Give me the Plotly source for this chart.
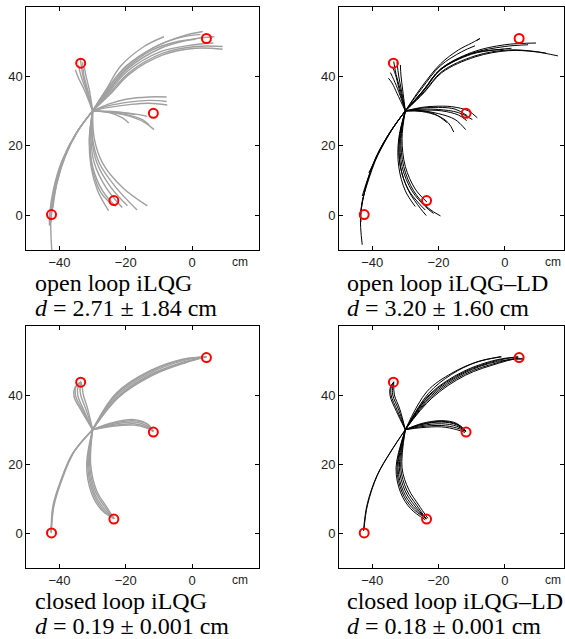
import plotly.graph_objects as go

# ---------------- data (cm) ----------------
TARGET_X = [-42.4, -33.6, -23.6, -11.7, 4.3]
TARGET_Y = [0.2, 43.7, 4.2, 29.3, 50.8]

X_TICKS = [-40, -20, 0]
X_TICK_TEXT = ["\u221240", "\u221220", "0"]
Y_TICKS = [0, 20, 40]
Y_TICK_TEXT = ["0", "20", "40"]

PANEL_TITLES = ["open loop iLQG", "open loop iLQG\u2013LD", "closed loop iLQG", "closed loop iLQG\u2013LD"]
PANEL_D_MEAN = ["2.71", "3.20", "0.19", "0.18"]
PANEL_D_STD = ["1.84", "1.60", "0.001", "0.001"]

# open loop iLQG trajectories
OL_ILQG_A = [
    [(-30, 30), (-26, 36), (-21.6, 42.8), (-14.5, 48.5), (-8.5, 51.3)],
    [(-30, 30), (-25.5, 36.5), (-20, 42.8), (-11, 48.5), (-3, 51.5), (3.2, 52.8)],
    [(-30, 30), (-25, 36), (-19.6, 42), (-9.5, 48), (0, 50.6), (6.7, 51.3)],
    [(-30, 30), (-25, 35.5), (-19.6, 41.3), (-9.5, 47), (0.6, 49), (6.4, 49.5)],
    [(-30, 30), (-24.5, 35.5), (-19, 41), (-9, 46.5), (1, 48.5), (9.2, 48.5)],
    [(-30, 30), (-24.5, 35), (-19, 40.5), (-9, 46), (1, 48), (9.2, 47.7)],
    [(-30, 30), (-25, 36), (-20, 42), (-12, 47.5), (-4, 50), (1, 50.6)],
    [(-30, 30), (-25.3, 36.2), (-20.3, 42.3), (-12, 48), (-4, 51), (2.5, 52)],
]
OL_ILQG_B = [
    [(-30, 30), (-25, 32), (-19.6, 33.4), (-13, 34), (-7.7, 34)],
    [(-30, 30), (-25, 31.5), (-19, 32.5), (-13, 33), (-7.7, 32.7)],
    [(-30, 30), (-25, 31), (-19, 31.8), (-13, 32.2), (-7.5, 31.7)],
    [(-30, 30), (-25, 29.8), (-20, 29.3), (-17.1, 28.9)],
    [(-30, 30), (-25, 29.5), (-21, 28), (-19.1, 26.5)],
    [(-30, 30), (-24, 29.8), (-18, 29.2), (-13.5, 28.4)],
    [(-30, 30), (-24, 29.5), (-18, 28.5), (-15, 27.5), (-13, 26)],
    [(-30, 30), (-24, 29.5), (-18, 28.2), (-14, 26.5), (-11.5, 24.6)],
]
OL_ILQG_C = [
    [(-30, 30), (-31, 22), (-30.5, 14), (-28.5, 7), (-25.2, 1.3)],
    [(-30, 30), (-30.8, 22), (-30, 14), (-27, 7), (-23, 2.5)],
    [(-30, 30), (-30.5, 22), (-29.5, 15), (-26, 8), (-21.1, 2.2)],
    [(-30, 30), (-30.2, 22), (-28.7, 15), (-24.5, 8), (-19.5, 2.7)],
    [(-30, 30), (-30, 22), (-28, 15), (-23, 8), (-16.6, 1.5)],
    [(-30, 30), (-29.5, 22), (-27, 15), (-21, 8), (-13.5, 2.7)],
    [(-30, 30), (-31, 21), (-30, 13), (-27.5, 6.5), (-24, 3)],
]
OL_ILQG_D = [
    [(-30, 30), (-32.5, 36), (-34.3, 39.5), (-35.2, 41.8)],
    [(-30, 30), (-32, 36), (-33.5, 40), (-34.3, 43.2)],
    [(-30, 30), (-31.8, 36), (-33, 40.5), (-33.7, 44.9)],
    [(-30, 30), (-31.5, 36), (-32.7, 40.5), (-33, 44)],
    [(-30, 30), (-31, 36), (-32, 40), (-32.5, 42.5)],
]
OL_ILQG_E = [
    [(-30, 30), (-35, 23.5), (-39, 16), (-41.5, 8), (-42.6, 0), (-42.3, -10.5)],
    [(-30, 30), (-34.6, 24), (-38.5, 16.5), (-41, 8.5), (-42.3, 1), (-42.5, -2)],
    [(-30, 30), (-34.8, 23.8), (-38.8, 16.2), (-41.3, 8.3), (-42.5, 0.5)],
    [(-30, 30), (-34.4, 24.3), (-38.2, 17), (-40.8, 9), (-42, 2)],
    [(-30, 30), (-35.2, 23.2), (-39.3, 15.5), (-41.8, 7.5), (-43, 0), (-43, -3)],
]

# open loop iLQG-LD trajectories
OL_LD_A = [
    [(-30, 30), (-25, 37), (-19.4, 43.5), (-14, 47.5), (-10, 49.5), (-7.5, 50.8), (-8.5, 50.2)],
    [(-30, 30), (-25, 36.5), (-19.4, 43), (-13, 47), (-9, 48.7)],
    [(-30, 30), (-24.5, 36), (-19.4, 42), (-10, 46.5), (-0.4, 47.7)],
    [(-30, 30), (-24.5, 36), (-19.4, 42), (-10, 46.8), (0, 49), (9.4, 49.5)],
    [(-30, 30), (-24.5, 35.8), (-19.4, 41.8), (-10, 46.5), (0, 48.5), (7, 49)],
    [(-30, 30), (-24.3, 35.5), (-19, 41.3), (-9, 45.8), (0.8, 47.5), (8, 47.2), (12.4, 46.6)],
    [(-30, 30), (-24.3, 35.3), (-19, 41), (-9, 45.5), (1, 47.3), (9, 47), (16, 45.8)],
    [(-30, 30), (-24.5, 35.8), (-19.4, 41.8), (-10, 46.3), (-3, 47.5), (2, 48)],
]
OL_LD_B = [
    [(-30, 30), (-25, 31), (-21.4, 31.3), (-16, 31.2), (-11, 30), (-8.3, 28)],
    [(-30, 30), (-25, 30.8), (-20, 31), (-15, 30.5), (-11.3, 28.6)],
    [(-30, 30), (-25, 30.5), (-20, 30.4), (-14, 29.5), (-9.8, 27.5)],
    [(-30, 30), (-25, 30), (-20, 29.2), (-15, 27.5), (-11.8, 24.6)],
    [(-30, 30), (-25, 29.8), (-20, 28.5), (-17, 26.5), (-15.4, 23.9)],
    [(-30, 30), (-25, 30), (-21, 29), (-17.4, 26.6)],
    [(-30, 30), (-25, 30.2), (-19, 30), (-14, 28.8), (-11.5, 27.2)],
]
OL_LD_C = [
    [(-30, 30), (-31.8, 22), (-31.5, 14), (-29, 7), (-25.5, 2), (-23.7, -0.1)],
    [(-30, 30), (-31.5, 22), (-31, 14), (-28, 7), (-24, 2.5), (-21.5, 0.5)],
    [(-30, 30), (-31.3, 22), (-30.5, 14), (-27.5, 7), (-23, 2), (-19.4, -0.2)],
    [(-30, 30), (-31.8, 22), (-31.5, 14), (-29.2, 7.5), (-26, 3.5), (-24, 1.5)],
    [(-30, 30), (-31, 22), (-30, 14), (-27, 7.5), (-23.5, 3.8)],
    [(-30, 30), (-32, 22), (-32, 14), (-30, 7), (-27, 2.5)],
]
OL_LD_D = [
    [(-30, 30), (-31.5, 36), (-32.8, 40.5), (-33.5, 44.2)],
    [(-30, 30), (-30.8, 36), (-31.3, 40), (-31.5, 43.2)],
    [(-30, 30), (-32.5, 35), (-34, 38), (-35.1, 39.4)],
    [(-30, 30), (-32, 35.5), (-33.5, 39), (-34.5, 41)],
    [(-30, 30), (-31.2, 36), (-32, 40), (-32.5, 44)],
    [(-30, 30), (-31.8, 36), (-33, 40.5), (-33.8, 42.5)],
]
OL_LD_E = [
    [(-30, 30), (-34.5, 24), (-38.6, 17), (-41.8, 8.4), (-43.5, 0), (-43, -8.5)],
    [(-30, 30), (-34.3, 24.2), (-38.3, 17.3), (-41.5, 9), (-43.2, 3), (-43.4, -2)],
    [(-30, 30), (-34.7, 23.8), (-38.8, 16.8), (-41.5, 10), (-43, 5.5)],
    [(-30, 30), (-34.4, 24), (-38.4, 17.1), (-41, 12.2)],
    [(-30, 30), (-34.6, 23.9), (-38.7, 16.9), (-42, 8), (-43.4, 1)],
]

# closed loop iLQG trajectories
CL_ILQG_A = [
    [(-30, 30), (-22.8, 40.3), (-12.5, 46.8), (-2.4, 50.3), (4.3, 51)],
    [(-30, 30), (-22.6, 40), (-12.5, 46.4), (-2.4, 50), (4.3, 51)],
    [(-30, 30), (-22.4, 39.6), (-12.3, 46), (-2.2, 49.6), (4.3, 51)],
    [(-30, 30), (-22.2, 39.3), (-12.1, 45.6), (-2, 49.3), (4.3, 51)],
    [(-30, 30), (-22.9, 40.5), (-12.7, 47), (-2.5, 50.4), (4.3, 51)],
    [(-30, 30), (-22.3, 39.4), (-12.2, 45.8), (-2.1, 49.5), (4.3, 51)],
]
CL_ILQG_B = [
    [(-30, 30), (-24, 32), (-17.6, 32.9), (-13.5, 31.7), (-11.7, 29.5)],
    [(-30, 30), (-24, 31.8), (-17.6, 32.6), (-13.5, 31.5), (-11.7, 29.5)],
    [(-30, 30), (-24, 31.5), (-17.6, 32.2), (-13.5, 31.1), (-11.7, 29.5)],
    [(-30, 30), (-24, 31.2), (-17.6, 31.7), (-13.5, 30.7), (-11.7, 29.5)],
    [(-30, 30), (-24, 31), (-17.6, 31.3), (-13.5, 30.4), (-11.7, 29.5)],
]
CL_ILQG_C = [
    [(-30, 30), (-31.5, 20), (-30, 12), (-27, 7), (-23.5, 4.3)],
    [(-30, 30), (-31.2, 20), (-29.6, 12), (-26.6, 7.2), (-23.5, 4.3)],
    [(-30, 30), (-30.9, 20), (-29.2, 12.2), (-26.2, 7.5), (-23.5, 4.3)],
    [(-30, 30), (-30.6, 20), (-28.8, 12.4), (-25.8, 7.7), (-23.5, 4.3)],
    [(-30, 30), (-31.8, 20), (-30.4, 11.8), (-27.3, 6.8), (-23.5, 4.3)],
]
CL_ILQG_D = [
    [(-30, 30), (-33, 35.5), (-35.2, 40), (-35, 42.5), (-33.5, 43.8)],
    [(-30, 30), (-32.6, 35.5), (-34.5, 40), (-34.4, 42.5), (-33.5, 43.8)],
    [(-30, 30), (-32, 35.8), (-33.6, 40), (-33.8, 42.5), (-33.5, 43.8)],
    [(-30, 30), (-31.5, 36), (-32.8, 40), (-33.2, 42.5), (-33.5, 43.8)],
    [(-30, 30), (-33.3, 35.3), (-35.6, 39.5), (-35.4, 42), (-33.5, 43.8)],
]
CL_ILQG_E = [
    [(-30, 30), (-35.8, 23.4), (-39.3, 15.8), (-41.8, 8.1), (-42.5, 0.3)],
    [(-30, 30), (-35.6, 23.6), (-39.1, 16), (-41.6, 8.3), (-42.5, 0.3)],
    [(-30, 30), (-36, 23.2), (-39.5, 15.6), (-42, 7.9), (-42.5, 0.3)],
]

# closed loop iLQG-LD trajectories
CL_LD_A = [
    [(-30, 30), (-23, 40.5), (-16, 46), (-9, 49.3), (-1.2, 51.1)],
    [(-30, 30), (-22.6, 40), (-12.3, 46.6), (-2.2, 50), (4, 51)],
    [(-30, 30), (-22.4, 39.7), (-12.3, 46.3), (-2.2, 49.7), (5.7, 50.4)],
    [(-30, 30), (-22.2, 39.4), (-12.1, 46), (-2, 49.4), (4, 50.6), (5.7, 50.3)],
    [(-30, 30), (-22.7, 40.2), (-12.5, 46.8), (-2.3, 50.2), (4, 51)],
    [(-30, 30), (-22, 39.1), (-11.9, 45.7), (-1.8, 49.2), (4, 50.7)],
    [(-30, 30), (-23.5, 41), (-16, 46.3), (-8, 49.7), (-1, 51)],
]
CL_LD_B = [
    [(-30, 30), (-25, 31.8), (-19, 32.6), (-14.5, 31.8), (-11.7, 29.5)],
    [(-30, 30), (-25, 31.5), (-19, 32.2), (-14.5, 31.4), (-11.7, 29.5)],
    [(-30, 30), (-25, 31.2), (-19, 31.7), (-14.5, 31), (-11.7, 29.5)],
    [(-30, 30), (-25, 30.9), (-19, 31.2), (-14.5, 30.5), (-11.7, 29.5)],
    [(-30, 30), (-25, 30.6), (-19, 30.8), (-14.5, 30), (-12, 29.2)],
    [(-30, 30), (-25, 31.6), (-19, 32.4), (-14.5, 31.6), (-11.9, 29.8)],
]
CL_LD_C = [
    [(-30, 30), (-32.5, 19), (-31, 12), (-28, 7.5), (-23.7, 4.3)],
    [(-30, 30), (-32.2, 19), (-30.6, 12.2), (-27.6, 7.8), (-23.7, 4.3)],
    [(-30, 30), (-31.8, 19), (-30.1, 12.4), (-27.1, 8), (-23.7, 4.3)],
    [(-30, 30), (-31.4, 19), (-29.6, 12.6), (-26.6, 8.2), (-23.7, 4.3)],
    [(-30, 30), (-32.8, 19), (-31.4, 11.8), (-28.4, 7.2), (-24, 4)],
    [(-30, 30), (-31, 19), (-29, 12.8), (-26, 8.3), (-23.2, 4.4)],
]
CL_LD_D = [
    [(-30, 30), (-32.4, 35.5), (-34.3, 40), (-34.2, 42.5), (-33.5, 43.8)],
    [(-30, 30), (-32, 35.7), (-33.8, 40), (-33.8, 42.5), (-33.5, 43.8)],
    [(-30, 30), (-31.7, 36), (-33.3, 40), (-33.5, 42.5), (-33.5, 43.8)],
    [(-30, 30), (-32.7, 35.3), (-34.6, 39.8), (-34.5, 42.3), (-33.6, 43.6)],
]
CL_LD_E = [
    [(-30, 30), (-34.6, 23.4), (-38.6, 16.7), (-41.6, 8.1), (-42.6, 0.8)],
    [(-30, 30), (-34.4, 23.6), (-38.4, 16.9), (-41.4, 8.3), (-42.5, 1)],
]

PANELS = [
    [OL_ILQG_A, OL_ILQG_B, OL_ILQG_C, OL_ILQG_D, OL_ILQG_E],
    [OL_LD_A, OL_LD_B, OL_LD_C, OL_LD_D, OL_LD_E],
    [CL_ILQG_A, CL_ILQG_B, CL_ILQG_C, CL_ILQG_D, CL_ILQG_E],
    [CL_LD_A, CL_LD_B, CL_LD_C, CL_LD_D, CL_LD_E],
]

# ---------------- layout geometry ----------------
W, H = 565, 639
LINE_COLORS = ["#a0a0a0", "#000000", "#a0a0a0", "#000000"]
LINE_WIDTHS = [1.4, 1.0, 1.4, 1.0]
RIGHT_END = 564.0
X_DOMAINS = [[26.3 / W, 258.5 / W], [339 / W, RIGHT_END / W], [26.3 / W, 258.5 / W], [339 / W, RIGHT_END / W]]
Y_DOMAINS = [[1 - 250 / H, 1 - 6.5 / H], [1 - 250 / H, 1 - 6.5 / H],
             [1 - 568.3 / H, 1 - 325.7 / H], [1 - 568.3 / H, 1 - 325.7 / H]]
RIGHT_MAX = -50 + (RIGHT_END - 339) * 70 / (258.5 - 26.3)
X_RANGES = [[-50, 20], [-50, RIGHT_MAX], [-50, 20], [-50, RIGHT_MAX]]
Y_RANGE = [-10, 60]

fig = go.Figure()

for i, groups in enumerate(PANELS):
    xa = "x" if i == 0 else f"x{i+1}"
    ya = "y" if i == 0 else f"y{i+1}"
    xs, ys = [], []
    for group in groups:
        for curve in group:
            xs += [p[0] for p in curve] + [None]
            ys += [p[1] for p in curve] + [None]
    fig.add_trace(go.Scatter(
        x=xs, y=ys, mode="lines", xaxis=xa, yaxis=ya,
        line=dict(color=LINE_COLORS[i], width=LINE_WIDTHS[i], shape="spline", smoothing=1.0),
        connectgaps=False, hoverinfo="skip", showlegend=False))
    fig.add_trace(go.Scatter(
        x=TARGET_X, y=TARGET_Y, mode="markers", xaxis=xa, yaxis=ya,
        marker=dict(symbol="circle-open", size=9, color="#ff0000", line=dict(color="#ff0000", width=2)),
        hoverinfo="skip", showlegend=False))

axis_common = dict(showgrid=False, zeroline=False, showline=True, linecolor="black", linewidth=1,
                   mirror="ticks", ticks="inside", ticklen=4, tickcolor="black", tickwidth=1,
                   tickfont=dict(family="Liberation Sans, Arial, sans-serif", size=13, color="#222222"))

layout = dict(width=W, height=H, margin=dict(l=0, r=0, t=0, b=0),
              paper_bgcolor="white", plot_bgcolor="white", showlegend=False)
annotations = []
for i in range(4):
    xk = "xaxis" if i == 0 else f"xaxis{i+1}"
    yk = "yaxis" if i == 0 else f"yaxis{i+1}"
    ya = "y" if i == 0 else f"y{i+1}"
    xa = "x" if i == 0 else f"x{i+1}"
    layout[xk] = dict(domain=X_DOMAINS[i], range=X_RANGES[i], anchor=ya,
                      tickvals=X_TICKS, ticktext=X_TICK_TEXT, **axis_common)
    layout[yk] = dict(domain=Y_DOMAINS[i], range=Y_RANGE, anchor=xa,
                      tickvals=Y_TICKS, ticktext=Y_TICK_TEXT, **axis_common)
    bottom_px = 250 if i < 2 else 568.3
    left_px = 33 if i % 2 == 0 else 345
    # "cm" unit label
    annotations.append(dict(text="cm", x=14.5, xref=xa, y=1 - (bottom_px + 12) / H, yref="paper",
                            showarrow=False, xanchor="center", yanchor="middle",
                            font=dict(family="Liberation Sans, Arial, sans-serif", size=12, color="#222222")))
    annotations.append(dict(text=PANEL_TITLES[i], x=left_px / W, xref="paper",
                            y=1 - (bottom_px + 33) / H, yref="paper", showarrow=False,
                            xanchor="left", yanchor="middle",
                            font=dict(family="Liberation Serif, Times New Roman, serif", size=24, color="black")))
    annotations.append(dict(text=f"<i>d</i> = {PANEL_D_MEAN[i]} \u00b1 {PANEL_D_STD[i]} cm",
                            x=left_px / W, xref="paper",
                            y=1 - (bottom_px + 58) / H, yref="paper", showarrow=False,
                            xanchor="left", yanchor="middle",
                            font=dict(family="Liberation Serif, Times New Roman, serif", size=24, color="black")))
layout["annotations"] = annotations
fig.update_layout(**layout)

fig.write_html("out.html")
